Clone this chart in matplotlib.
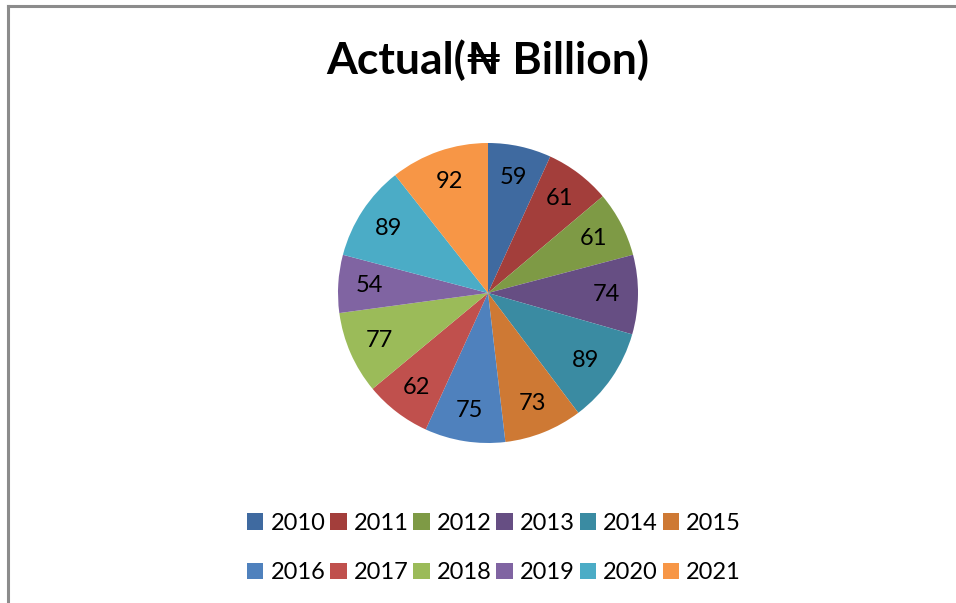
import matplotlib.pyplot as plt
from matplotlib.patches import Patch
from matplotlib.lines import Line2D

plt.rcParams['font.family'] = ['Lato', 'DejaVu Sans']

years = ['2010', '2011', '2012', '2013', '2014', '2015',
         '2016', '2017', '2018', '2019', '2020', '2021']
actual = [59, 61, 61, 74, 89, 73, 75, 62, 77, 54, 89, 92]
colors = ['#3F6AA0', '#A33E3B', '#7E9A45', '#664E83', '#3A8BA2', '#CE7934',
          '#4F81BD', '#C0504D', '#9BBB59', '#8064A2', '#4BACC6', '#F79646']

fig = plt.figure(figsize=(9.56, 6.03), dpi=100)

# chart border (left and top only visible)
fig.add_artist(Line2D([8/956, 8/956], [0, 1 - 6/603], color='#8C8C8C', lw=2.2))
fig.add_artist(Line2D([8/956, 955/956], [1 - 6/603, 1 - 6/603], color='#8C8C8C', lw=2.2))

r = 150
cx, cy = 488, 293
ax = fig.add_axes([(cx - r) / 956, 1 - (cy + r) / 603, 2 * r / 956, 2 * r / 603])
wedges, texts = ax.pie(actual, colors=colors, startangle=90, counterclock=False,
                       labels=[str(v) for v in actual], labeldistance=0.79,
                       wedgeprops=dict(linewidth=0), radius=1,
                       textprops=dict(fontsize=17, color='#000000', ha='center', va='center'))
ax.set_xlim(-1, 1)
ax.set_ylim(-1, 1)
ax.set_aspect('equal')

fig.text(488 / 956, 1 - 60 / 603, 'Actual(₦ Billion)', ha='center', va='center',
         fontsize=32, fontweight='bold')

# legend fills column by column, so interleave to get row order
handles = [Patch(facecolor=c, edgecolor='none') for c in colors]
order = [i + 6 * row for i in range(6) for row in range(2)]
fig.legend([handles[i] for i in order], [years[i] for i in order],
           loc='center', bbox_to_anchor=(494 / 956, 1 - 548 / 603),
           ncol=6, frameon=False, fontsize=17, handlelength=0.7, handleheight=0.7,
           handletextpad=0.3, columnspacing=0.2, labelspacing=1.22, borderpad=0)

fig.savefig('out.png', dpi=100)
